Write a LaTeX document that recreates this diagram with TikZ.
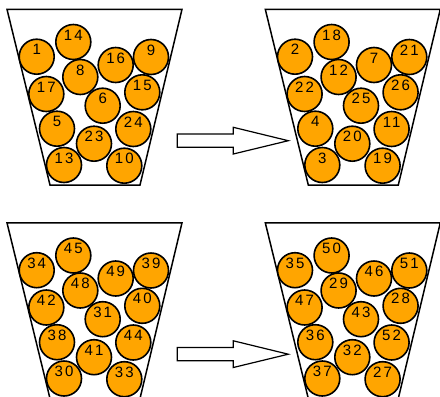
\documentclass[tikz,border=0pt]{standalone}
\usepackage{fontspec}
\setmainfont{Liberation Sans}
\newfontfamily\ballfont{Liberation Sans}[LetterSpace=14]
\definecolor{ballorange}{HTML}{FFA500}
\tikzset{
  ball/.style={circle, draw=black, line width=1.6pt, fill=ballorange,
    minimum size=35pt, inner sep=0pt},
  balllabel/.style={font=\ballfont\fontsize{15}{15}\selectfont, inner sep=0pt, anchor=center},
  cupline/.style={draw=black, line width=1.5pt, line join=miter},
  arrowbody/.style={draw=black, fill=white, line width=1.2pt, line join=miter},
}
\begin{document}
\begin{tikzpicture}[x=1pt, y=-1pt]
  \useasboundingbox (0,0) rectangle (440,397);
  \clip (0,0) rectangle (440,397);
  % four cups, same packing of thirteen balls, different numbers
  \foreach \dx/\dy/\labs in {
      0/0/{14,1,8,16,9,17,6,15,5,24,23,13,10},
      258.3/0/{18,2,12,7,21,22,25,26,4,11,20,3,19},
      0/213.5/{45,34,48,49,39,42,31,40,38,44,41,30,33},
      258.3/213.5/{50,35,29,46,51,47,43,28,36,52,32,37,27}} {
    \begin{scope}[shift={(\dx,\dy)}]
      \draw[cupline] (7,9.3) -- (50,185) -- (140,185) -- (182,9.3) -- cycle;
      \foreach \px/\py [count=\i from 0] in {
          73.3/42, 36.7/56.7, 80.3/77, 115.7/65, 151/57,
          46.3/94, 102.7/105.7, 142.3/92.3, 57/128.7, 133.3/129,
          94/143.7, 64/165, 124.3/165.7} {
        \pgfmathtruncatemacro\lab{{\labs}[\i]}
        \node[ball] (b\lab) at (\px,\py) {};
        \node[balllabel] (t\lab) at ([yshift=7pt]b\lab.center) {\lab};
      }
    \end{scope}
  }
  % block arrows between the cups
  \foreach \ay in {0, 213.5} {
    \draw[arrowbody] (177.3,134+\ay) -- (233.3,134+\ay) -- (233.3,127.3+\ay)
      -- (288.3,140.7+\ay) -- (233.3,154+\ay) -- (233.3,147.3+\ay)
      -- (177.3,147.3+\ay) -- cycle;
  }
\end{tikzpicture}
\end{document}
